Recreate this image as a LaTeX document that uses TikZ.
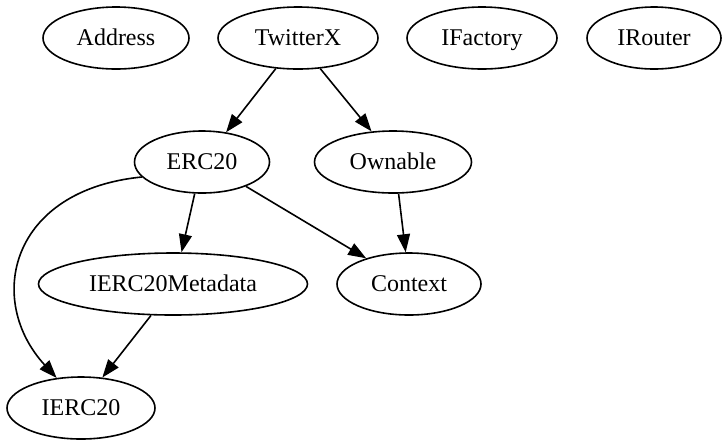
\documentclass[tikz,border=0pt]{standalone}
\usepackage{fontspec}
\setmainfont{Liberation Serif}
\usetikzlibrary{shapes.geometric,arrows.meta}
\tikzset{
  nd/.style={ellipse, draw, line width=0.8pt, minimum height=31pt, inner sep=0pt, minimum width=#1, text height=9.5pt, text depth=2pt, font=\fontsize{12}{14}\selectfont},
  edge/.style={line width=0.8pt, -{Triangle[length=9pt,width=6.5pt]}}
}
\begin{document}
\begin{tikzpicture}[x=0.5pt,y=-0.5pt]
\useasboundingbox (0,0) rectangle (722,441);
\node[nd=73pt] (address) at (116,38) {Address};
\node[nd=80pt] (twitterx) at (298,38) {TwitterX};
\node[nd=75pt] (ifactory) at (482,38) {IFactory};
\node[nd=67pt] (irouter) at (654,38) {IRouter};
\node[nd=67.5pt] (erc20) at (202,162) {ERC20};
\node[nd=78.5pt] (ownable) at (393,162) {Ownable};
\node[nd=134.5pt] (meta) at (173,284) {IERC20Metadata};
\node[nd=72pt] (context) at (409,284) {Context};
\node[nd=74pt] (ierc20) at (81,408) {IERC20};
\draw[edge] (twitterx.234) -- (erc20.51);
\draw[edge] (twitterx.306) -- (ownable.125);
\draw[edge] (erc20.257) -- (meta.75);
\draw[edge] (erc20.331) -- (context.149);
\draw[edge] (ownable.280) -- (context.96);
\draw[edge] (meta.235) -- (ierc20.55);
\draw[edge] (erc20.194) .. controls (10,190) and (-15,300) .. (ierc20.129);
\end{tikzpicture}
\end{document}
